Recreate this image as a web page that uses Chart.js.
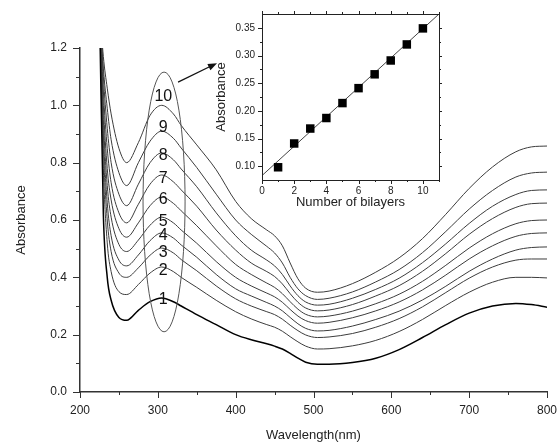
<!DOCTYPE html>
<html><head><meta charset="utf-8">
<script src="https://cdn.jsdelivr.net/npm/chart.js@4.4.1/dist/chart.umd.min.js"></script>
<style>
html,body{margin:0;padding:0;background:#fff;}
#wrap{position:relative;width:559px;height:446px;background:#fff;}
#main{position:absolute;left:0;top:0;}
#inset{position:absolute;left:200px;top:0;}
</style></head><body>
<div id="wrap"><canvas id="main" width="559" height="446"></canvas><canvas id="inset" width="250" height="220"></canvas></div>
<script>
// ---------- main spectra data ----------
const wavelengths = [225,230,235,240,250,260,275,290,305,320,330,350,375,400,420,440,450,460,470,480,490,505,520,550,580,610,640,670,700,730,760,780,800];
const curve1  = [1.35,0.62,0.40,0.32,0.26,0.25,0.285,0.315,0.328,0.315,0.30,0.27,0.235,0.20,0.182,0.168,0.16,0.15,0.135,0.118,0.104,0.097,0.097,0.103,0.118,0.148,0.19,0.235,0.275,0.300,0.309,0.305,0.296];
const curve2  = [1.35,0.78,0.52,0.42,0.35,0.34,0.375,0.415,0.436,0.42,0.40,0.365,0.32,0.28,0.255,0.235,0.226,0.212,0.193,0.175,0.160,0.150,0.151,0.161,0.18,0.211,0.253,0.302,0.348,0.383,0.40,0.40,0.398];
const curve3  = [1.35,0.85,0.60,0.49,0.415,0.40,0.433,0.477,0.502,0.485,0.462,0.423,0.37,0.325,0.30,0.28,0.27,0.254,0.233,0.214,0.199,0.19,0.192,0.204,0.226,0.256,0.297,0.347,0.397,0.436,0.46,0.464,0.464];
const curve4  = [1.35,0.90,0.66,0.545,0.46,0.44,0.478,0.528,0.555,0.537,0.513,0.47,0.41,0.36,0.335,0.312,0.30,0.283,0.26,0.238,0.222,0.213,0.215,0.23,0.253,0.282,0.321,0.369,0.421,0.464,0.495,0.504,0.506];
const curve5  = [1.35,0.95,0.72,0.61,0.515,0.49,0.53,0.582,0.61,0.59,0.565,0.519,0.455,0.40,0.37,0.345,0.332,0.313,0.288,0.265,0.249,0.24,0.243,0.259,0.283,0.314,0.356,0.408,0.464,0.51,0.543,0.553,0.555];
const curve6  = [1.35,1.0,0.78,0.67,0.57,0.54,0.59,0.65,0.68,0.658,0.632,0.58,0.51,0.445,0.41,0.38,0.365,0.343,0.315,0.289,0.271,0.262,0.265,0.282,0.308,0.341,0.386,0.442,0.502,0.552,0.587,0.598,0.600];
const curve7  = [1.35,1.05,0.85,0.73,0.625,0.59,0.655,0.725,0.757,0.733,0.705,0.648,0.565,0.495,0.45,0.42,0.403,0.377,0.343,0.313,0.293,0.283,0.286,0.305,0.335,0.371,0.421,0.483,0.55,0.605,0.644,0.657,0.659];
const curve8  = [1.35,1.1,0.92,0.80,0.69,0.65,0.725,0.80,0.834,0.81,0.778,0.716,0.625,0.545,0.495,0.46,0.44,0.41,0.37,0.336,0.314,0.303,0.306,0.327,0.358,0.397,0.451,0.517,0.588,0.648,0.689,0.703,0.705];
const curve9  = [1.35,1.13,0.99,0.88,0.765,0.72,0.80,0.875,0.91,0.885,0.851,0.783,0.69,0.60,0.55,0.508,0.485,0.45,0.40,0.36,0.336,0.323,0.327,0.349,0.384,0.427,0.486,0.56,0.638,0.703,0.75,0.764,0.767];
const curve10 = [1.35,1.17,1.06,0.97,0.85,0.80,0.87,0.965,1.0,0.97,0.93,0.862,0.775,0.665,0.605,0.565,0.545,0.51,0.45,0.395,0.362,0.348,0.352,0.378,0.418,0.468,0.535,0.62,0.71,0.785,0.838,0.855,0.858];
const curves = [curve1,curve2,curve3,curve4,curve5,curve6,curve7,curve8,curve9,curve10];

const xTickValues = [200,300,400,500,600,700,800];
const xMinorTicks = [250,350,450,550,650,750];
const yTickValues = [0.0,0.2,0.4,0.6,0.8,1.0,1.2];
const yMinorTicks = [0.1,0.3,0.5,0.7,0.9,1.1];

// curve number labels (annotation)
const curveLabels = ['1','2','3','4','5','6','7','8','9','10'];
const labelWavelength = 307;
const labelAbs = [0.321,0.425,0.485,0.544,0.596,0.670,0.746,0.823,0.924,1.029];
const ellipseCenter = [308, 0.663];
const ellipseRadii = [27, 0.453];
const arrowFrom = [326, 1.081];
const arrowTo = [376, 1.147];

// ---------- inset data ----------
const bilayers = [1,2,3,4,5,6,7,8,9,10];
const insetAbs = [0.098,0.141,0.168,0.187,0.214,0.241,0.266,0.291,0.320,0.349];
const fitX = [0, 11];
const fitY = [0.083, 0.375];
const insetXTicks = [0,2,4,6,8,10];
const insetXMinor = [1,3,5,7,9,11];
const insetYTicks = [0.10,0.15,0.20,0.25,0.30,0.35];
const insetYMinor = [0.125,0.175,0.225,0.275,0.325];

Chart.defaults.font.family = '"Liberation Sans", Arial, sans-serif';
Chart.defaults.color = '#222';

function line(ctx,x1,y1,x2,y2){ctx.beginPath();ctx.moveTo(x1,y1);ctx.lineTo(x2,y2);ctx.stroke();}

const mainDecor = {
  id:'mainDecor',
  afterDraw(chart){
    const {ctx, scales:{x,y}, chartArea:a} = chart;
    ctx.save();
    ctx.strokeStyle='#333'; ctx.lineWidth=1;
    yTickValues.forEach(v=>{const p=Math.round(y.getPixelForValue(v))+0.5; line(ctx,a.left-7,p,a.left,p);});
    yMinorTicks.forEach(v=>{const p=Math.round(y.getPixelForValue(v))+0.5; line(ctx,a.left-4,p,a.left,p);});
    xTickValues.forEach(v=>{const p=Math.round(x.getPixelForValue(v))+0.5; line(ctx,p,a.bottom,p,a.bottom+6);});
    xMinorTicks.forEach(v=>{const p=Math.round(x.getPixelForValue(v))+0.5; line(ctx,p,a.bottom,p,a.bottom+3);});
    // ellipse
    ctx.strokeStyle='#555'; ctx.lineWidth=1;
    const cx=x.getPixelForValue(ellipseCenter[0]), cy=y.getPixelForValue(ellipseCenter[1]);
    const rx=Math.abs(x.getPixelForValue(ellipseCenter[0]+ellipseRadii[0])-cx);
    const ry=Math.abs(y.getPixelForValue(ellipseCenter[1]+ellipseRadii[1])-cy);
    ctx.beginPath(); ctx.ellipse(cx,cy,rx,ry,0,0,Math.PI*2); ctx.stroke();
    // labels
    ctx.fillStyle='#111'; ctx.font='16px "Liberation Sans", Arial, sans-serif';
    ctx.textAlign='center'; ctx.textBaseline='middle';
    curveLabels.forEach((t,i)=>{ctx.fillText(t, x.getPixelForValue(labelWavelength), y.getPixelForValue(labelAbs[i]));});
    // arrow
    const x1=x.getPixelForValue(arrowFrom[0]), y1=y.getPixelForValue(arrowFrom[1]);
    const x2=x.getPixelForValue(arrowTo[0]), y2=y.getPixelForValue(arrowTo[1]);
    ctx.strokeStyle='#111'; ctx.lineWidth=1.2;
    const ang=Math.atan2(y2-y1,x2-x1);
    line(ctx,x1,y1,x2-6*Math.cos(ang),y2-6*Math.sin(ang));
    ctx.beginPath(); ctx.moveTo(x2,y2);
    ctx.lineTo(x2-9*Math.cos(ang)+3.5*Math.sin(ang), y2-9*Math.sin(ang)-3.5*Math.cos(ang));
    ctx.lineTo(x2-9*Math.cos(ang)-3.5*Math.sin(ang), y2-9*Math.sin(ang)+3.5*Math.cos(ang));
    ctx.closePath(); ctx.fillStyle='#111'; ctx.fill();
    ctx.restore();
  }
};

new Chart(document.getElementById('main'), {
  type:'line',
  data:{
    datasets: curves.map((c,i)=>({
      label:'Bilayer '+(i+1),
      data: wavelengths.map((w,j)=>({x:w,y:c[j]})),
      borderColor: i===0 ? '#000' : '#3c3c3c',
      borderWidth: i===0 ? 1.5 : 1,
      pointRadius:0, fill:false,
      cubicInterpolationMode:'monotone'
    }))
  },
  options:{
    responsive:false, animation:false, devicePixelRatio:1,
    layout:{padding:{left:0,top:48,right:12,bottom:0}},
    plugins:{legend:{display:false}, tooltip:{enabled:false}},
    scales:{
      x:{type:'linear', min:200, max:800,
        afterBuildTicks:s=>{s.ticks=xTickValues.map(v=>({value:v}));},
        afterFit:s=>{s.height=54; s.paddingRight=0; s.paddingLeft=0;},
        grid:{display:false, drawTicks:false},
        border:{display:true,color:'#333',width:1.5},
        ticks:{padding:11, font:{size:12}, color:'#222', maxRotation:0},
        title:{display:true, text:'Wavelength(nm)', font:{size:13}, color:'#222', padding:{top:0,bottom:3}}
      },
      y:{type:'linear', min:0, max:1.2,
        afterBuildTicks:s=>{s.ticks=yTickValues.map(v=>({value:v}));},
        afterFit:s=>{s.width=80; s.paddingTop=0; s.paddingBottom=0;},
        grid:{display:false, drawTicks:false},
        border:{display:true,color:'#333',width:1.5},
        ticks:{padding:13, font:{size:12}, color:'#222', callback:v=>v.toFixed(1)},
        title:{display:true, text:'Absorbance', font:{size:13}, color:'#222', padding:{top:14,bottom:0}}
      }
    }
  },
  plugins:[mainDecor]
});

const insetDecor = {
  id:'insetDecor',
  afterDraw(chart){
    const {ctx, scales:{x,y}, chartArea:a} = chart;
    ctx.save();
    ctx.strokeStyle='#222'; ctx.lineWidth=1;
    ctx.strokeRect(Math.round(a.left)+0.5, Math.round(a.top)+0.5, Math.round(a.right-a.left), Math.round(a.bottom-a.top));
    insetXTicks.forEach(v=>{const p=Math.round(x.getPixelForValue(v))+0.5; line(ctx,p,a.bottom,p,a.bottom+4); line(ctx,p,a.top,p,a.top-3);});
    insetXMinor.forEach(v=>{const p=Math.round(x.getPixelForValue(v))+0.5; line(ctx,p,a.bottom,p,a.bottom+2); line(ctx,p,a.top,p,a.top-2);});
    insetYTicks.forEach(v=>{const p=Math.round(y.getPixelForValue(v))+0.5; line(ctx,a.left-4,p,a.left,p); line(ctx,a.right,p,a.right+3,p);});
    insetYMinor.forEach(v=>{const p=Math.round(y.getPixelForValue(v))+0.5; line(ctx,a.left-2,p,a.left,p); line(ctx,a.right,p,a.right+2,p);});
    ctx.restore();
  }
};

new Chart(document.getElementById('inset'), {
  type:'scatter',
  data:{
    datasets:[
      {label:'fit', type:'line', data: fitX.map((v,i)=>({x:v,y:fitY[i]})), borderColor:'#444', borderWidth:1, pointRadius:0, fill:false, order:2},
      {label:'Absorbance', data: bilayers.map((v,i)=>({x:v,y:insetAbs[i]})), pointStyle:'rect', pointRadius:6, backgroundColor:'#000', borderColor:'#000', borderWidth:0, order:1}
    ]
  },
  options:{
    responsive:false, animation:false, devicePixelRatio:1,
    layout:{padding:{left:0,top:14,right:11,bottom:0}},
    plugins:{legend:{display:false}, tooltip:{enabled:false}},
    scales:{
      x:{type:'linear', min:0, max:11,
        afterBuildTicks:s=>{s.ticks=insetXTicks.map(v=>({value:v}));},
        afterFit:s=>{s.height=40; s.paddingRight=0; s.paddingLeft=0;},
        grid:{display:false, drawTicks:false},
        border:{display:false},
        ticks:{padding:5, font:{size:10}, color:'#222', maxRotation:0},
        title:{display:true, text:'Number of bilayers', font:{size:13}, color:'#222', padding:{top:0,bottom:10}}
      },
      y:{type:'linear', min:0.075, max:0.375,
        afterBuildTicks:s=>{s.ticks=insetYTicks.map(v=>({value:v}));},
        afterFit:s=>{s.width=62; s.paddingTop=0; s.paddingBottom=0;},
        grid:{display:false, drawTicks:false},
        border:{display:false},
        ticks:{padding:7, font:{size:10}, color:'#222', callback:v=>v.toFixed(2)},
        title:{display:true, text:'Absorbance', font:{size:13}, color:'#222', padding:{top:14,bottom:0}}
      }
    }
  },
  plugins:[insetDecor]
});
</script>
</body></html>
